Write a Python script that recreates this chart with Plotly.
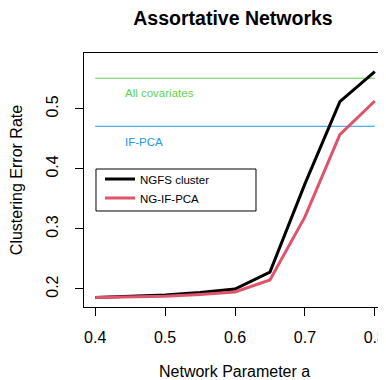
import plotly.graph_objects as go

# Data
a_values = [0.4, 0.45, 0.5, 0.55, 0.6, 0.65, 0.7, 0.75, 0.8]
ngfs_cluster = [0.186, 0.188, 0.190, 0.194, 0.200, 0.228, 0.375, 0.512, 0.562]
ng_if_pca = [0.186, 0.187, 0.188, 0.191, 0.195, 0.215, 0.320, 0.457, 0.513]
ref_x = [0.4, 0.8]
all_covariates = 0.551
if_pca = 0.471
x_ticks = [0.4, 0.5, 0.6, 0.7, 0.8]
y_ticks = [0.2, 0.3, 0.4, 0.5]

GREEN = "#61D04F"
BLUE = "#2297E6"
RED = "#DF536B"
FONT = "Liberation Sans, Arial, Helvetica, sans-serif"

# The page body has an 8px margin, so the figure is sized to fill the rest of the window.
W, H = 378, 372

fig = go.Figure()
fig.add_trace(go.Scatter(x=ref_x, y=[all_covariates] * 2, mode="lines",
                         line=dict(color=GREEN, width=1), showlegend=False, hoverinfo="skip"))
fig.add_trace(go.Scatter(x=ref_x, y=[if_pca] * 2, mode="lines",
                         line=dict(color=BLUE, width=1), showlegend=False, hoverinfo="skip"))
fig.add_trace(go.Scatter(x=a_values, y=ngfs_cluster, mode="lines", name="NGFS cluster",
                         line=dict(color="black", width=3)))
fig.add_trace(go.Scatter(x=a_values, y=ng_if_pca, mode="lines", name="NG-IF-PCA",
                         line=dict(color=RED, width=3)))

fig.add_annotation(x=0.44, y=0.527, text="All covariates", showarrow=False,
                   xanchor="left", yanchor="middle", font=dict(color=GREEN, size=11.5, family=FONT))
fig.add_annotation(x=0.44, y=0.4455, text="IF-PCA", showarrow=False,
                   xanchor="left", yanchor="middle", font=dict(color=BLUE, size=11.5, family=FONT))
# x-axis title
fig.add_annotation(x=0.497, y=-0.2559, xref="paper", yref="paper", text="Network Parameter a",
                   showarrow=False, xanchor="center", yanchor="middle",
                   font=dict(size=16, family=FONT, color="black"))

# legend frame
fig.add_shape(type="rect", xref="paper", yref="paper", x0=0.0397, x1=0.5695, y0=0.378, y1=0.5433,
              line=dict(color="black", width=1), fillcolor="rgba(0,0,0,0)", layer="above")

fig.update_layout(
    width=W, height=H,
    margin=dict(l=76, r=0, t=45, b=73),
    paper_bgcolor="white", plot_bgcolor="white",
    font=dict(family=FONT, color="black", size=16),
    title=dict(text="<b>Assortative Networks</b>", x=225 / W, xanchor="center",
               y=1 - 10 / H, yanchor="middle", font=dict(size=19.5, family=FONT)),
    legend=dict(x=0.053, y=0.561, xanchor="left", yanchor="top",
                borderwidth=0, bgcolor="rgba(0,0,0,0)",
                font=dict(size=11.5, family=FONT), tracegroupgap=0),
    xaxis=dict(range=[0.384, 0.816], tickvals=x_ticks, ticktext=[f"{v:.1f}" for v in x_ticks],
               showgrid=False, zeroline=False, showline=True, linecolor="black", linewidth=1,
               mirror=True, ticks="outside", ticklen=8, tickcolor="black",
               ticklabelstandoff=8, automargin=False, ticklabeloverflow="allow"),
    yaxis=dict(range=[0.17, 0.593], tickvals=y_ticks, ticktext=[f"{v:.1f}" for v in y_ticks],
               showgrid=False, zeroline=False, showline=True, linecolor="black", linewidth=1,
               mirror=True, ticks="outside", ticklen=8, tickcolor="black", tickangle=-90,
               ticklabelstandoff=11, automargin=False, ticklabeloverflow="allow",
               title=dict(text="Clustering Error Rate", standoff=19, font=dict(size=16))),
)

fig.write_html("out.html")
